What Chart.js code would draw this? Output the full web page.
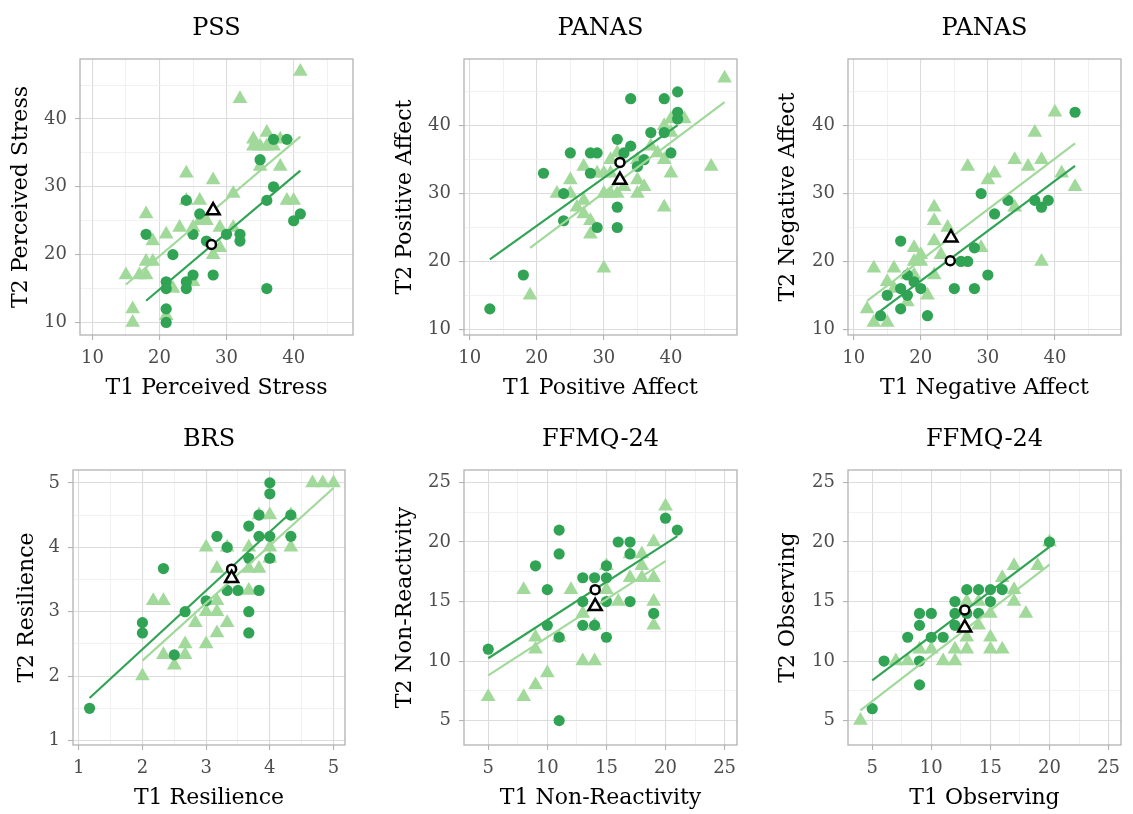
<!DOCTYPE html>
<html>
<head>
<meta charset="utf-8">
<script src="https://cdn.jsdelivr.net/npm/chart.js@4.4.1/dist/chart.umd.min.js"></script>
<style>
  body { margin: 0; background: #fff; width: 1133px; height: 814px; position: relative; overflow: hidden; }
  canvas { position: absolute; }
</style>
</head>
<body>
<script>
// ---- data, [T1, T2] pairs ----
// PSS
const pssDark = [[37,37],[39,37],[35,34],[37,30],[36,28],[24,28],[26,26],[41,26],[40,25],[18,23],[25,23],[30,23],[32,23],[32,22],[27,22],[22,20],[21,16],[21,15],[24,16],[24,15],[25,17],[28,17],[36,15],[21,12],[21,10]];
const pssLight = [[41,47],[32,43],[36,38],[34,37],[35,36],[36,36],[37,36],[38,37],[34,36],[38,33],[35,33],[24,32],[28,31],[31,29],[26,28],[24,28],[39,28],[40,28],[18,26],[27,25],[26,25],[29,24],[23,24],[25,24],[31,24],[21,23],[19,22],[29,21],[28,20],[18,19],[19,19],[15,17],[17,17],[18,17],[25,16],[22,15],[16,12],[16,10],[21,11]];
const pssMeans = [[27.75,21.5],[28,26.5]];
const pssFitDark = [[18,13.2],[41,32.4]];
const pssFitLight = [[15,15.6],[41,37.4]];

// PANAS positive
const posDark = [[13,13],[18,18],[21,33],[24,30],[24,26],[25,36],[28,36],[29,36],[28,33],[29,25],[32,38],[32,28],[32,25],[34,44],[33,36],[34,37],[35,34],[36,35],[37,39],[39,44],[39,39],[41,45],[41,42],[41,41],[40,36]];
const posLight = [[48,47],[46,34],[42,41],[39,40],[40,41],[40,39],[39,35],[37,37],[38,36],[40,33],[39,28],[35,32],[36,31],[35,30],[35,35],[32,36],[31,35],[31,33],[30,33],[30,30],[31,30],[32,30],[33,31],[27,34],[25,32],[25,30],[23,30],[26,28],[27,29],[27,27],[28,26],[28,24],[29,33],[30,19],[19,15]];
const posMeans = [[32.4,34.6],[32.4,32.0]];
const posFitDark = [[13,20.3],[41,40.1]];
const posFitLight = [[19,22.0],[48,43.5]];

// PANAS negative
const negDark = [[43,42],[29,30],[33,29],[37,29],[39,29],[38,28],[31,27],[28,22],[26,20],[27,20],[30,18],[25,16],[28,16],[17,23],[17,16],[18,18],[18,15],[15,15],[19,17],[20,16],[17,13],[14,12],[21,12]];
const negLight = [[40,42],[37,39],[34,35],[36,34],[38,35],[27,34],[31,33],[30,32],[41,33],[43,31],[34,28],[22,28],[22,26],[24,25],[22,23],[23,21],[19,22],[20,21],[19,20],[20,20],[29,22],[38,20],[13,19],[16,19],[15,17],[16,16],[18,18],[19,18],[22,18],[21,15],[12,13],[13,11],[15,11],[18,14]];
const negMeans = [[24.4,20.1],[24.5,23.5]];
const negFitDark = [[14,12.7],[43,34.1]];
const negFitLight = [[12,14.2],[43,37.4]];

// BRS
const brsDark = [[1.17,1.5],[2,2.83],[2,2.67],[2.33,3.67],[2.5,2.33],[2.67,3],[3,3.17],[3.17,4.17],[3.33,4],[3.33,3.33],[3.5,3.33],[3.67,4.33],[3.67,3.83],[3.67,3],[3.67,2.67],[3.83,4.5],[3.83,4.17],[3.83,3.33],[4,5],[4,4.83],[4,4.17],[4,3.83],[4.33,4.5],[4.33,4.17]];
const brsLight = [[4.67,5],[4.83,5],[5,5],[4,4.5],[3.83,4.5],[4.33,4.5],[4.33,4],[4,4],[4,3.83],[3.67,4],[3.33,4],[3,4],[3.17,3.67],[3.67,3.67],[3.83,3.67],[3.67,3.33],[3.17,3.17],[3.17,3],[3,3],[3.33,2.83],[3.17,2.67],[2.83,2.83],[3,2.5],[2.67,2.5],[2.67,2.33],[2.33,2.33],[2.5,2.17],[2.17,3.17],[2.33,3.17],[2,2]];
const brsMeans = [[3.4,3.66],[3.4,3.52]];
const brsFitDark = [[1.17,1.66],[4.33,4.54]];
const brsFitLight = [[2,2.24],[5,4.92]];

// FFMQ-24 non-reactivity
const nrDark = [[5,11],[11,21],[11,19],[9,18],[10,16],[10,13],[11,12],[11,5],[13,17],[14,17],[13,15],[13,13],[14,13],[15,18],[15,17],[15,15],[15,12],[16,20],[17,20],[17,19],[17,15],[19,14],[20,22],[21,21]];
const nrLight = [[20,23],[19,20],[18,19],[18,18],[18,17],[19,17],[17,17],[17,19],[15,18],[15,16],[16,15],[19,15],[19,13],[12,16],[8,16],[13,14],[14,13],[11,12],[9,12],[9,11],[13,10],[14,10],[10,9],[9,8],[5,7],[8,7]];
const nrMeans = [[14.05,16],[14.05,14.6]];
const nrFitDark = [[5,10.24],[21,20.5]];
const nrFitLight = [[5,8.8],[20,18.4]];

// FFMQ-24 observing
const obsDark = [[5,6],[6,10],[8,12],[9,14],[9,13],[9,10],[9,8],[10,14],[10,12],[11,12],[12,15],[12,14],[12,13],[13,16],[13,14],[14,16],[14,14],[15,16],[15,15],[16,16],[20,20]];
const obsLight = [[20,20],[19,18],[17,18],[16,17],[17,16],[17,15],[18,14],[14,15],[15,14],[14,13],[15,12],[13,12],[13,11],[15,11],[16,11],[12,11],[11,10],[12,10],[10,11],[9,11],[7,10],[8,10],[4,5],[13,15]];
const obsMeans = [[12.83,14.3],[12.83,12.8]];
const obsFitDark = [[5,8.37],[20,19.6]];
const obsFitLight = [[4,5.86],[20,18.1]];

// ---- look ----
const DARK = '#31a354';
const LIGHT = '#a1d99b';
const SERIF = "'DejaVu Serif', serif";
Chart.defaults.font.family = SERIF;

const panels = [
  { title: 'PSS', xt: 'T1 Perceived Stress', yt: 'T2 Perceived Stress', dark: pssDark, light: pssLight, means: pssMeans, fd: pssFitDark, fl: pssFitLight, xr: [8.15, 48.85], yr: [8.15, 48.85], major: 10, box: [80, 59, 357, 335], yPad: 8 },
  { title: 'PANAS', xt: 'T1 Positive Affect', yt: 'T2 Positive Affect', dark: posDark, light: posLight, means: posMeans, fd: posFitDark, fl: posFitLight, xr: [9.15, 49.85], yr: [9.15, 49.85], major: 10, box: [464, 59, 741, 335], yPad: 8 },
  { title: 'PANAS', xt: 'T1 Negative Affect', yt: 'T2 Negative Affect', dark: negDark, light: negLight, means: negMeans, fd: negFitDark, fl: negFitLight, xr: [9.15, 49.85], yr: [9.15, 49.85], major: 10, box: [848, 59, 1125, 335], yPad: 7 },
  { title: 'BRS', xt: 'T1 Resilience', yt: 'T2 Resilience', dark: brsDark, light: brsLight, means: brsMeans, fd: brsFitDark, fl: brsFitLight, xr: [0.91, 5.18], yr: [0.93, 5.2], major: 1, box: [73, 470, 349, 745], yPad: 21 },
  { title: 'FFMQ-24', xt: 'T1 Non-Reactivity', yt: 'T2 Non-Reactivity', dark: nrDark, light: nrLight, means: nrMeans, fd: nrFitDark, fl: nrFitLight, xr: [2.95, 26.05], yr: [2.95, 26.05], major: 5, box: [464, 470, 741, 745], yPad: 8 },
  { title: 'FFMQ-24', xt: 'T1 Observing', yt: 'T2 Observing', dark: obsDark, light: obsLight, means: obsMeans, fd: obsFitDark, fl: obsFitLight, xr: [2.95, 26.05], yr: [2.95, 26.05], major: 5, box: [848, 470, 1125, 745], yPad: 7 }
];

const AXW = 80, AXH = 75, TOP = 60, RPAD = 6;

function isMajor(v, major) {
  const q = v / major;
  return Math.abs(q - Math.round(q)) < 1e-6;
}
function pts(arr) { return arr.map(p => ({ x: p[0], y: p[1] })); }

function axis(range, major, text, isX, yPad) {
  return {
    type: 'linear',
    min: range[0],
    max: range[1],
    ticks: {
      stepSize: major / 2,
      autoSkip: false,
      includeBounds: false,
      maxRotation: 0,
      color: '#4d4d4d',
      font: { size: 18 },
      padding: 8,
      callback: v => isMajor(v, major) ? String(Math.round(v)) : ''
    },
    grid: {
      color: c => isMajor(c.tick.value, major) ? '#dcdcdc' : '#eeeeee',
      lineWidth: c => isMajor(c.tick.value, major) ? 1.1 : 0.8,
      tickColor: c => isMajor(c.tick.value, major) ? '#b3b3b3' : 'rgba(0,0,0,0)',
      tickLength: 5
    },
    border: { display: false },
    title: {
      display: true,
      text: text,
      color: '#000',
      font: { size: 22 },
      padding: isX ? { top: 0, bottom: 8.8 } : { top: yPad, bottom: 0 }
    },
    afterFit: s => { if (isX) s.height = AXH; else s.width = AXW; }
  };
}

// panel title centred over the plot area
const panelTitle = {
  id: 'panelTitle',
  afterDraw(chart, args, opts) {
    const { ctx, chartArea } = chart;
    ctx.save();
    ctx.font = '24px ' + SERIF;
    ctx.fillStyle = '#000';
    ctx.textAlign = 'center';
    ctx.textBaseline = 'middle';
    ctx.fillText(opts.text, (chartArea.left + chartArea.right) / 2, chartArea.top - 30);
    ctx.restore();
  }
};

// grey frame around the panel
const panelBorder = {
  id: 'panelBorder',
  beforeDatasetsDraw(chart) {
    const { ctx, chartArea: a } = chart;
    ctx.save();
    ctx.strokeStyle = '#b3b3b3';
    ctx.lineWidth = 1.3;
    ctx.strokeRect(a.left, a.top, a.right - a.left, a.bottom - a.top);
    ctx.restore();
  }
};

panels.forEach(p => {
  const [l, t, r, b] = p.box;
  const cv = document.createElement('canvas');
  cv.width = (r - l) + AXW + RPAD;
  cv.height = TOP + (b - t) + AXH;
  cv.style.left = (l - AXW) + 'px';
  cv.style.top = (t - TOP) + 'px';
  document.body.appendChild(cv);

  new Chart(cv, {
    type: 'scatter',
    data: {
      datasets: [
        { data: pts(p.light), pointStyle: 'triangle', pointRadius: 8.5, backgroundColor: LIGHT, borderWidth: 0, order: 5, clip: false },
        { data: pts(p.dark), pointStyle: 'circle', pointRadius: 5.6, backgroundColor: DARK, borderWidth: 0, order: 4, clip: false },
        { data: pts(p.fl), showLine: true, pointRadius: 0, borderColor: LIGHT, borderWidth: 2.2, order: 3 },
        { data: pts(p.fd), showLine: true, pointRadius: 0, borderColor: DARK, borderWidth: 2.2, order: 2 },
        { data: pts([p.means[0]]), pointStyle: 'circle', pointRadius: 4.5, backgroundColor: '#fff', borderColor: '#000', borderWidth: 2.5, order: 1, clip: false },
        { data: pts([p.means[1]]), pointStyle: 'triangle', pointRadius: 7.5, backgroundColor: '#fff', borderColor: '#000', borderWidth: 2.5, order: 0, clip: false }
      ]
    },
    options: {
      responsive: false,
      animation: false,
      devicePixelRatio: 1,
      layout: { padding: { top: TOP, right: RPAD, left: 0, bottom: 0 } },
      plugins: {
        legend: { display: false },
        tooltip: { enabled: false },
        panelTitle: { text: p.title }
      },
      scales: {
        x: axis(p.xr, p.major, p.xt, true),
        y: axis(p.yr, p.major, p.yt, false, p.yPad)
      }
    },
    plugins: [panelTitle, panelBorder]
  });
});
</script>
</body>
</html>
